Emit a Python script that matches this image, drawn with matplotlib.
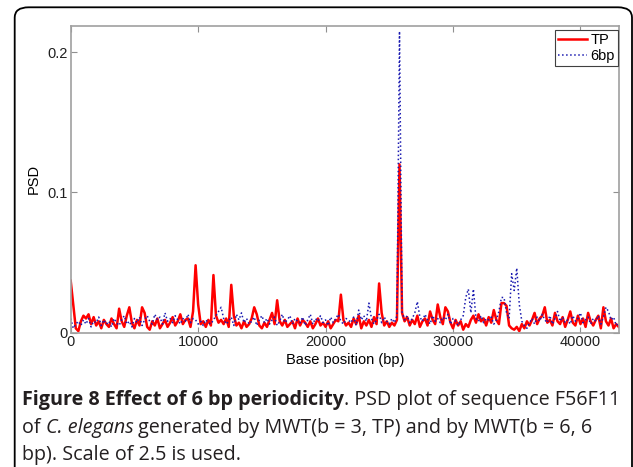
import numpy as np
import matplotlib
matplotlib.use("Agg")
import matplotlib.pyplot as plt
from matplotlib.patches import FancyBboxPatch

# base positions sampled every 200 bp (0 .. 43000)
base_pos = np.arange(0, 43001, 200)

# PSD values, in units of 1e-3
tp_psd_milli = [
    37, 20, 3, 1, 8,
    12, 10, 13, 6, 11,
    5, 8, 3, 9, 6,
    4, 10, 6, 3, 17,
    8, 4, 12, 18, 7,
    3, 9, 5, 18, 14,
    4, 2, 8, 5, 10,
    3, 6, 9, 4, 7,
    11, 5, 8, 13, 6,
    9, 10, 4, 15, 48,
    20, 6, 8, 4, 9,
    5, 41, 12, 7, 9,
    6, 10, 4, 34, 12,
    5, 7, 3, 8, 4,
    6, 10, 18, 13, 5,
    3, 7, 4, 9, 14,
    6, 23, 8, 5, 9,
    4, 6, 8, 3, 10,
    5, 9, 7, 4, 8,
    3, 6, 10, 5, 7,
    4, 8, 3, 6, 9,
    8, 27, 9, 5, 7,
    4, 10, 6, 12, 3,
    8, 5, 9, 4, 11,
    6, 35, 14, 5, 8,
    4, 7, 5, 9, 120,
    14, 8, 11, 5, 9,
    6, 12, 4, 8, 10,
    5, 15, 9, 6, 20,
    11, 6, 18, 15, 7,
    3, 9, 5, 8, 2,
    6, 4, 9, 12, 7,
    13, 8, 10, 5, 11,
    7, 16, 9, 6, 21,
    21, 19, 5, 3, 2,
    4, 1, 6, 3, 8,
    5, 9, 14, 6, 10,
    12, 18, 7, 9, 5,
    14, 8, 6, 11, 4,
    9, 15, 7, 5, 12,
    6, 10, 4, 14, 8,
    5, 9, 12, 3, 18,
    8, 5, 10, 3, 6,
    4,
]

bp6_psd_milli = [
    10, 3, 6, 8, 5,
    9, 6, 10, 4, 8,
    7, 11, 5, 9, 6,
    8, 4, 10, 7, 5,
    9, 12, 6, 8, 4,
    10, 7, 11, 5, 9,
    12, 8, 6, 13, 9,
    11, 6, 14, 8, 10,
    7, 12, 9, 6, 10,
    8, 13, 7, 10, 9,
    6, 8, 5, 9, 7,
    6, 9, 12, 15, 18,
    10, 6, 8, 11, 5,
    13, 9, 14, 7, 10,
    6, 8, 11, 5, 9,
    12, 7, 10, 6, 9,
    11, 5, 8, 13, 7,
    9, 12, 6, 10, 8,
    7, 11, 5, 9, 13,
    6, 10, 8, 12, 7,
    9, 5, 11, 7, 10,
    13, 8, 6, 10, 9,
    7, 11, 5, 16, 9,
    12, 8, 21, 10, 6,
    9, 13, 7, 11, 8,
    6, 10, 7, 12, 215,
    15, 9, 12, 7, 10,
    14, 22, 11, 8, 13,
    9, 6, 12, 8, 10,
    7, 11, 9, 13, 6,
    10, 8, 5, 9, 12,
    25, 31, 14, 31, 10,
    8, 12, 7, 10, 9,
    11, 6, 9, 15, 25,
    25, 14, 10, 42, 30,
    46, 20, 8, 5, 3,
    7, 10, 6, 11, 8,
    13, 9, 7, 12, 6,
    10, 15, 8, 11, 7,
    9, 6, 12, 8, 10,
    14, 7, 9, 11, 6,
    10, 8, 12, 6, 11,
    18, 15, 9, 11, 5,
    7,
]

tp_psd = np.array(tp_psd_milli) * 1e-3
bp6_psd = np.array(bp6_psd_milli) * 1e-3

W, H = 633, 467
fig = plt.figure(figsize=(W / 100, H / 100), dpi=100)

# rounded frame around the figure panel (top-left corner visible)
frame = FancyBboxPatch((14.7 / W, -0.03), (632 - 14.7) / W, 1 - 7.3 / H + 0.03,
                       boxstyle="round,pad=0,rounding_size=0.022",
                       transform=fig.transFigure, fill=False, ec="black", lw=1.3,
                       clip_on=False)
fig.patches.append(frame)

ax = fig.add_axes([70.7 / W, 1 - 332.5 / H, 548 / W, (332.5 - 25.7) / H])
ax.plot(base_pos, tp_psd, color="red", lw=1.8, label="TP")
ax.plot(base_pos, bp6_psd, color="#1a1ab0", lw=1.1, ls=":", label="6bp")

ax.set_xlim(0, 43000)
ax.set_ylim(0, 0.219)
ax.set_xticks([0, 10000, 20000, 30000, 40000])
ax.set_yticks([0, 0.1, 0.2])
ax.set_yticklabels(["0", "0.1", "0.2"])
ax.tick_params(direction="in", top=True, right=True, length=4, color="#909090",
               labelsize=10.5, pad=2, labelcolor="#202020")
for s in ax.spines.values():
    s.set_color("#a0a0a0")
    s.set_linewidth(1.2)

lab_font = {"family": "Liberation Sans", "size": 10.5}
for t in ax.get_xticklabels() + ax.get_yticklabels():
    t.set_family("Liberation Sans")
ax.set_xlabel("Base position (bp)", fontdict=lab_font, labelpad=3)
ax.set_ylabel("PSD", fontdict=lab_font, labelpad=5)

leg = ax.legend(loc="upper right", bbox_to_anchor=(0.998, 0.985), borderaxespad=0,
                fancybox=False, edgecolor="#404040", framealpha=1,
                prop={"family": "Liberation Sans", "size": 10.5},
                handlelength=2.0, handletextpad=0.2, borderpad=0.2,
                labelspacing=0.1)
leg.get_frame().set_linewidth(0.8)

# caption, drawn run by run so bold / italic parts line up
renderer = fig.canvas.get_renderer()
cap_font = "Open Sans"
cap_size = 14.2
caption_lines = [
    [("Figure 8 Effect of 6 bp periodicity", "bold", "normal"),
     (". PSD plot of sequence F56F11", "normal", "normal")],
    [("of ", "normal", "normal"), ("C. elegans", "normal", "italic"),
     (" generated by MWT(b = 3, TP) and by MWT(b = 6, 6", "normal", "normal")],
    [("bp). Scale of 2.5 is used.", "normal", "normal")],
]
line_y = [400, 428, 455]
for runs, ypx in zip(caption_lines, line_y):
    xpx = 22
    for txt, weight, style in runs:
        t = fig.text(xpx / W, 1 - ypx / H, txt, family=cap_font, size=cap_size,
                     weight=weight, style=style, color="#231f20", va="center", ha="left")
        bb = t.get_window_extent(renderer=renderer)
        xpx += bb.width

fig.savefig("out.png", dpi=100)
